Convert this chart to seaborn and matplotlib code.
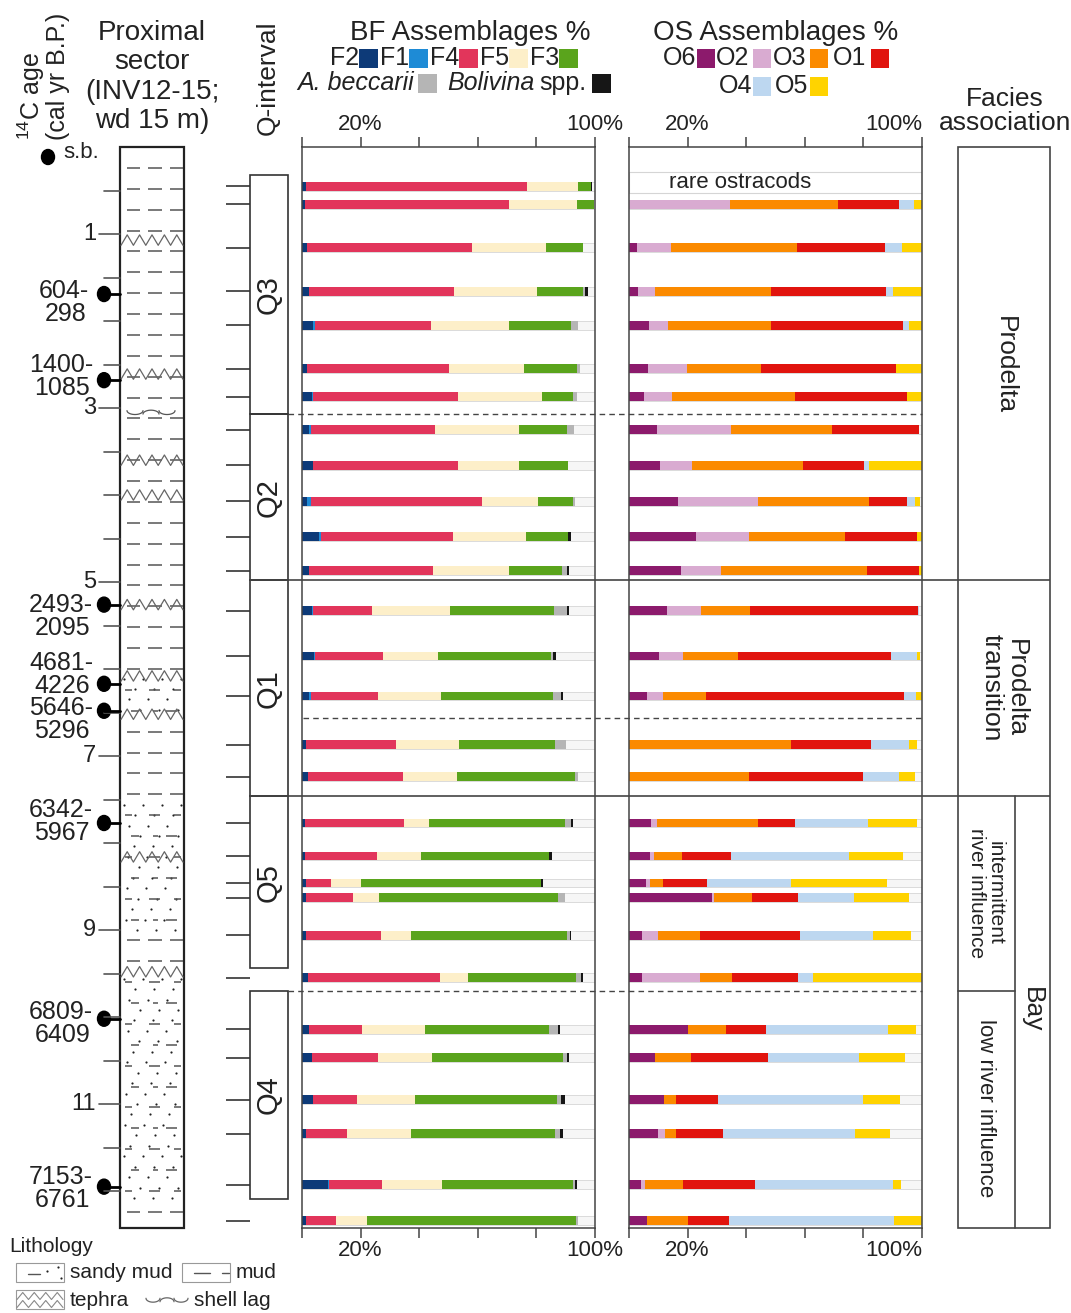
import numpy as np
import seaborn as sns
import matplotlib.pyplot as plt
from matplotlib.patches import Rectangle, Ellipse

# sample depths below sea bottom (m)
depth = [0.45, 0.66, 1.16, 1.66, 2.05, 2.55, 2.87, 3.25, 3.66, 4.07, 4.48, 4.87,
         5.33, 5.85, 6.31, 6.87, 7.24, 7.77, 8.15, 8.46, 8.63, 9.06, 9.55,
         10.14, 10.47, 10.95, 11.34, 11.93, 12.34]

# benthic foraminifera assemblages (%)
F2 = [1.4, 1.1, 1.8, 2.5, 3.9, 1.6, 3.4, 2.5, 3.6, 1.6, 5.7, 2.3, 3.4, 4.1, 2.5,
      1.4, 2.0, 1.1, 1.1, 1.4, 1.4, 1.4, 2.2, 2.3, 3.4, 3.6, 1.4, 9.0, 1.4]
F1 = [0, 0, 0, 0, 0.5, 0, 0.3, 0.5, 0, 1.4, 0.7, 0, 0.4, 0.4, 0.5,
      0, 0, 0, 0, 0, 0, 0, 0, 0, 0, 0, 0, 0.3, 0]
F4 = [75.5, 69.5, 56.1, 49.4, 39.5, 48.6, 49.7, 42.3, 49.8, 58.3, 45.2, 42.3, 20.1, 23.1, 22.9,
      30.7, 32.4, 33.7, 24.6, 8.6, 15.9, 25.4, 44.8, 18.2, 22.5, 15.3, 13.8, 18.1, 10.2]
F5 = [17.3, 23.1, 25.4, 28.3, 26.7, 25.7, 28.5, 28.6, 20.5, 19.1, 25.0, 26.0, 26.6, 18.8, 21.5,
      21.6, 18.4, 8.4, 14.9, 10.1, 9.1, 10.3, 9.5, 21.6, 18.5, 19.6, 21.9, 20.3, 10.5]
F3 = [4.3, 6.0, 12.5, 15.6, 21.2, 18.1, 10.6, 16.4, 16.8, 12.0, 14.1, 18.0, 35.5, 38.7, 38.2,
      32.6, 40.4, 46.6, 43.6, 61.4, 60.9, 53.5, 36.9, 42.3, 44.8, 48.6, 49.2, 44.9, 71.3]
A_BECCARII = [0, 0, 0, 0.9, 2.5, 0.9, 1.5, 2.5, 0, 0.9, 0.2, 2.0, 4.3, 0.7, 2.7,
              3.8, 1.1, 1.9, 0, 0, 2.5, 0.7, 1.7, 3.1, 1.4, 1.2, 1.8, 0.5, 0.7]
BOLIVINA = [0.5, 0, 0, 0.8, 0, 0, 0, 0, 0, 0, 0.9, 0.6, 0.7, 0.9, 0.9,
            0, 0, 0.7, 1.2, 0.8, 0, 0.6, 0.7, 0.7, 0.5, 1.6, 0.9, 0.6, 0]

# ostracod assemblages (%), top sample has rare ostracods
os_depth = depth[1:]
O6 = [0, 2.6, 3.2, 6.9, 6.6, 5.1, 9.4, 10.6, 16.8, 22.9, 17.6, 12.9, 10.4, 6.0,
      0, 0, 7.4, 7.2, 5.8, 28.2, 4.3, 4.3, 20.3, 8.9, 12.1, 10.0, 4.0, 6.0]
O2 = [34.5, 11.6, 5.7, 6.5, 13.1, 9.7, 25.4, 10.8, 27.1, 18.1, 13.7, 11.6, 8.1, 5.5,
      0, 0, 2.3, 1.3, 1.4, 0.8, 5.5, 19.9, 0, 0, 0, 2.3, 1.6, 0]
O3 = [36.9, 43.0, 39.5, 35.1, 25.2, 41.9, 34.4, 37.9, 37.9, 32.7, 49.8, 16.8, 18.8, 14.8,
      55.3, 41.1, 34.4, 9.7, 4.5, 12.9, 14.4, 11.1, 12.7, 12.1, 3.8, 3.6, 12.9, 14.0]
O1 = [20.9, 30.2, 39.2, 45.1, 46.2, 38.1, 29.9, 20.9, 13.0, 24.5, 18.0, 57.2, 52.0, 67.6,
      27.2, 38.6, 12.6, 16.5, 14.8, 15.9, 34.2, 22.5, 13.8, 26.3, 14.6, 16.3, 24.5, 14.1]
O4 = [5.0, 5.7, 2.6, 1.8, 0, 0, 0, 1.8, 2.8, 0, 0, 0.5, 8.9, 4.1,
      12.9, 12.6, 25.0, 40.5, 28.7, 19.0, 24.8, 5.1, 41.5, 31.3, 49.5, 44.9, 47.0, 56.3]
O5 = [2.6, 6.8, 9.7, 4.5, 8.8, 5.1, 0, 17.9, 1.7, 1.7, 0.8, 0, 1.1, 1.9,
      2.8, 5.3, 16.5, 18.4, 32.7, 18.9, 13.0, 37.0, 9.7, 15.6, 12.5, 12.0, 2.7, 9.5]

BF_NAMES = ['F2', 'F1', 'F4', 'F5', 'F3']
BF_COLORS = ['#0d3a78', '#1e8bd6', '#e2355b', '#fdefc9', '#5aa41c', '#b5b5b5', '#161616']
OS_NAMES = ['O6', 'O2', 'O3', 'O1', 'O4', 'O5']
OS_COLORS = ['#8c1a6c', '#d9abd1', '#fb8a00', '#e1140e', '#bdd7f0', '#ffd300']

# lithology and ages
SANDY = [(6.05, 6.5), (7.5, 9.05), (9.5, 12.2)]
TEPHRA = [1.07, 2.61, 3.60, 4.0, 5.26, 6.08, 6.52, 8.16, 9.48]
SHELL_LAG = [3.05]
AGE_DOT = [1.69, 2.68, 5.26, 6.17, 6.48, 7.77, 10.02, 11.95]
AGE_TXT = [('604-', '298', 1.66), ('1400-', '1085', 2.51), ('2493-', '2095', 5.26),
           ('4681-', '4226', 5.93), ('5646-', '5296', 6.45), ('6342-', '5967', 7.62),
           ('6809-', '6409', 9.94), ('7153-', '6761', 11.84)]

# Q-intervals and facies (depth ranges)
Q_NAMES = ['Q3', 'Q2', 'Q1', 'Q5', 'Q4']
Q_TOP = [0.32, 3.07, 4.98, 7.46, 9.70]
Q_BOT = [3.07, 4.98, 7.46, 9.44, 12.09]
DASHED = [3.07, 6.56, 9.70]
SOLID = [4.98, 7.46]

W, H = 1071, 1313
TOP, SCALE = 147, 87.0
BOT_D = (1228 - TOP) / SCALE
INK = '#222222'


def P(ypx):
    return (ypx - TOP) / SCALE


sns.set_style('white')
plt.rcParams['font.family'] = ['Liberation Sans', 'DejaVu Sans']
plt.rcParams['mathtext.fontset'] = 'custom'
plt.rcParams['mathtext.rm'] = 'Liberation Sans'
plt.rcParams['mathtext.default'] = 'regular'
plt.rcParams['text.color'] = INK

fig = plt.figure(figsize=(W / 100, H / 100), dpi=100)


def panel(x0, x1):
    return fig.add_axes([x0 / W, 1 - 1228 / H, (x1 - x0) / W, (1228 - TOP) / H])


def stacked(ax, ys, parts, colors):
    cum = np.cumsum(np.array(parts, dtype=float), axis=0)
    kw = dict(y=ys, orient='h', native_scale=True, width=0.6, errorbar=None,
              saturation=1, ax=ax)
    sns.barplot(x=np.full(len(ys), 100.0), color='#f6f6f6', edgecolor='#d6d6d6',
                linewidth=0.6, **kw)
    for k in range(len(parts) - 1, -1, -1):
        sns.barplot(x=cum[k], color=colors[k], linewidth=0, **kw)


ax_bf = panel(302, 595)
stacked(ax_bf, depth, [F2, F1, F4, F5, F3, A_BECCARII, BOLIVINA], BF_COLORS)
ax_os = panel(629, 922)
stacked(ax_os, os_depth, [O6, O2, O3, O1, O4, O5], OS_COLORS)
ax_os.add_patch(Rectangle((0, P(172)), 100, P(193) - P(172), fc='white',
                          ec='#d5d5d5', lw=0.8))
ax_os.text(38, P(182.5), 'rare ostracods', ha='center', va='center', size=16)

for ax in (ax_bf, ax_os):
    ax.set_xlim(0, 100)
    ax.set_ylim(BOT_D, 0)
    ax.set_xticks([0, 20, 40, 60, 80, 100])
    ax.set_xticklabels(['', '20%', '', '', '', '100%'])
    ax.tick_params(axis='x', top=True, bottom=True, labeltop=True, labelbottom=True,
                   direction='out', length=7, width=1.1, color='#444', pad=2,
                   labelsize=16, labelcolor=INK)
    ax.set_yticks([])
    ax.set_xlabel('')
    ax.set_ylabel('')
    for s in ax.spines.values():
        s.set_color('#444')
        s.set_linewidth(1.1)
last = ax_os.xaxis.get_major_ticks()[-1]
last.label1.set_horizontalalignment('right')
last.label2.set_horizontalalignment('right')

# overlay: x in pixels, y in depth (m)
ov = fig.add_axes([0, 0, 1, 1])
ov.set_xlim(0, W)
ov.set_ylim(P(H), P(0))
ov.axis('off')

# --- lithology column
rows = np.arange(0.24, 12.35, 0.24)
for i, r in enumerate(rows):
    sandy = any(a <= r <= b for a, b in SANDY)
    if not sandy:
        segs = [(127, 140), (148, 162), (170, 183)]
    elif i % 2:
        segs = [(125, 132), (149, 160), (174, 181)]
    else:
        segs = [(131, 139), (153, 158), (166, 177)]
    for a, b in segs:
        ov.plot([a, b], [r, r], color='#555', lw=1.1, solid_capstyle='butt')
for a, b in SANDY:
    for j, r in enumerate(np.arange(a + 0.06, b, 0.12)):
        xs = 124 + (j * 11) % 17 + np.arange(0, 60, 19)
        xs = xs[xs < 182]
        ov.scatter(xs, np.full(len(xs), r), s=2.5, c=INK, lw=0)
zx = np.linspace(121, 183, 11)
zz = np.where(np.arange(11) % 2 == 0, 0.06, -0.06)
for d in TEPHRA:
    ov.plot(zx, d + zz, color='#666', lw=0.9)
t = np.linspace(0, np.pi, 20)
for d in SHELL_LAG:
    for cx, sg in [(135, 1), (151, -1), (167, 1)]:
        ov.plot(cx + 8 * np.cos(t), d + sg * 0.045 * np.sin(t) - sg * 0.02,
                color='#555', lw=0.9)
ov.add_patch(Rectangle((120, 0), 64, BOT_D, fill=False, ec=INK, lw=1.6))

for d in np.arange(0.5, 12.01, 0.5):
    major = int(d) == d and int(d) % 2 == 1
    ov.plot([99 if major else 104, 120], [d, d], color='#555', lw=1.2)
    if major:
        ov.text(96, d, str(int(d)), ha='right', va='center', size=17)

for d in AGE_DOT:
    ov.plot([104, 120], [d, d], color='black', lw=2)
    ov.add_patch(Ellipse((104, d), 13, 15 / SCALE, fc='black', ec='black'))
for l1, l2, d in AGE_TXT:
    xr = 89 if len(l1) == 4 else 93
    ov.text(xr, d, l1, ha='right', va='center', size=18)
    ov.text(xr - 3, d + 23 / SCALE, l2, ha='right', va='center', size=18)
ov.add_patch(Ellipse((48, P(157)), 13, 15 / SCALE, fc='black', ec='black'))
ov.text(63, P(153), 's.b.', ha='left', va='center', size=16)

# --- headers
ov.text(43, P(140), '$^{14}$C age\n(cal yr B.P.)', rotation=90, rotation_mode='anchor',
        ha='left', va='center', size=18, linespacing=0.95)
ov.text(152, P(20), 'Proximal\nsector\n(INV12-15;\nwd 15 m)', ha='center', va='top',
        size=20, linespacing=1.17)
ov.text(268, P(135), 'Q-interval', rotation=90, rotation_mode='anchor',
        ha='left', va='center', size=19)
ov.text(470, P(33), 'BF Assemblages %', ha='center', va='center', size=20)
ov.text(776, P(33), 'OS Assemblages %', ha='center', va='center', size=20)
ov.text(1005, P(111), 'Facies\nassociation', ha='center', va='center', size=19,
        linespacing=1.0)


def swatch(x, y, c, w=19):
    ov.add_patch(Rectangle((x, P(y - 9.5)), w, 19 / SCALE, fc=c, ec='none'))


for k, name in enumerate(BF_NAMES):
    ov.text(330 + 50 * k, P(58), name, ha='left', va='center', size=18)
    swatch(359 + 50 * k, 58, BF_COLORS[k])
ov.text(297, P(83), 'A. beccarii', ha='left', va='center', size=18, style='italic')
swatch(418, 83, BF_COLORS[5])
ov.text(447, P(83), 'Bolivina', ha='left', va='center', size=18, style='italic')
ov.text(539, P(83), 'spp.', ha='left', va='center', size=18)
swatch(592, 83, BF_COLORS[6])

os_pos = [(663, 697, 58), (716, 753, 58), (773, 810, 58), (833, 871, 58),
          (719, 753, 86), (775, 810, 86)]
for (tx, sx, y), name, c in zip(os_pos, OS_NAMES, OS_COLORS):
    ov.text(tx, P(y), name, ha='left', va='center', size=18)
    swatch(sx, y, c, w=18)

# --- Q-interval column and correlation lines
ov.hlines(depth, 226, 250, colors='#333', lw=1.2)
for name, a, b in zip(Q_NAMES, Q_TOP, Q_BOT):
    ov.add_patch(Rectangle((250, a), 38, b - a, fill=False, ec='#333', lw=1.2))
    ov.text(269, (a + b) / 2, name, rotation=90, ha='center', va='center', size=21)
ov.hlines(SOLID, 250, 1050, colors='#444', lw=1.2)
ov.hlines(DASHED[0], 288, 922, colors='#444', lw=1.0, linestyles=(0, (4, 3)))
ov.hlines(DASHED[1], 303, 922, colors='#444', lw=1.0, linestyles=(0, (4, 3)))
ov.hlines(DASHED[2], 288, 922, colors='#444', lw=1.0, linestyles=(0, (4, 3)))

# --- facies association
ov.add_patch(Rectangle((958, 0), 92, BOT_D, fill=False, ec='#444', lw=1.2))
ov.plot([1015, 1015], [SOLID[1], BOT_D], color='#444', lw=1.2)
ov.plot([958, 1015], [DASHED[2], DASHED[2]], color='#444', lw=1.2)
ov.text(1005, P(365), 'Prodelta', rotation=270, ha='center', va='center', size=19)
ov.text(1004, P(688), 'Prodelta\ntransition', rotation=270, ha='center', va='center',
        size=19, linespacing=1.0)
ov.text(986, P(893), 'intermittent\nriver influence', rotation=270, ha='center',
        va='center', size=15, linespacing=1.0)
ov.text(986, P(1108), 'low river influence', rotation=270, ha='center', va='center',
        size=16)
ov.text(1032, P(1010), 'Bay', rotation=270, ha='center', va='center', size=19)

# --- lithology legend
ov.text(9, P(1247), 'Lithology', ha='left', va='center', size=15)
for x0, y0 in [(16, 1263), (182, 1263), (16, 1290)]:
    ov.add_patch(Rectangle((x0, P(y0)), 48, 19 / SCALE, fill=False, ec='#999', lw=0.8))
ov.plot([28, 40], [P(1274), P(1274)], color='#555', lw=1)
ov.scatter([58, 47, 61], [P(1267), P(1271), P(1278)], s=2.5, c=INK, lw=0)
ov.plot([194, 210], [P(1273), P(1273)], color='#555', lw=1)
ov.plot([222, 229], [P(1273), P(1273)], color='#555', lw=1)
ov.text(70, P(1272), 'sandy mud', ha='left', va='center', size=15)
ov.text(236, P(1272), 'mud', ha='left', va='center', size=15)
lx = np.linspace(17, 63, 9)
lz = np.where(np.arange(9) % 2 == 0, 3.5, -3.5) / SCALE
ov.plot(lx, P(1296) + lz, color='#888', lw=0.8)
ov.plot(lx, P(1304) + lz, color='#888', lw=0.8)
ov.text(70, P(1300), 'tephra', ha='left', va='center', size=15)
for cx, sg in [(153, 1), (167, -1), (181, 1)]:
    ov.plot(cx + 7 * np.cos(t), P(1300) + sg * 0.045 * np.sin(t) - sg * 0.02,
            color='#666', lw=0.9)
ov.text(194, P(1300), 'shell lag', ha='left', va='center', size=15)

fig.savefig('out.png', dpi=100)
